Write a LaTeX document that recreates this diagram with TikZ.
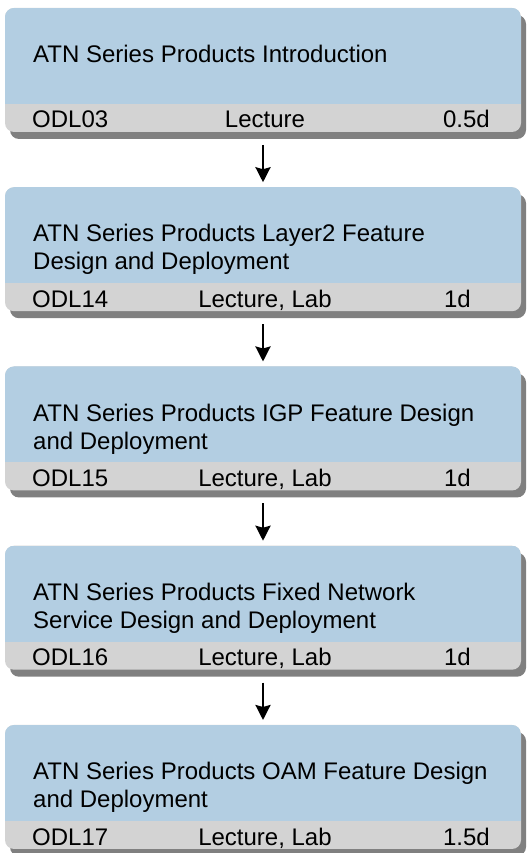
\documentclass[tikz,border=0pt]{standalone}
\usepackage{fontspec}
\setmainfont{Liberation Sans}
\usetikzlibrary{arrows.meta,shadows}

\definecolor{titleblue}{RGB}{179,206,226}
\definecolor{bargray}{RGB}{211,211,211}
\definecolor{shadowgray}{RGB}{128,128,128}

\begin{document}
\begin{tikzpicture}[
                        x=1pt,
                        y=1pt,
                        node distance=179.25pt,
                        font=\fontsize{24}{28}\selectfont,
                        flow/.style={-{Stealth[length=15pt,width=15pt,inset=2pt]},
                                     line width=2.5pt,
                                     shorten <=13pt,
                                     shorten >=5pt}
                    ]
                    \tikzstyle{course}=[rectangle,rounded corners=9pt,
                        minimum width=516pt,minimum height=124pt,
                        inner sep=0pt,outer sep=0pt,fill=bargray,
                        drop shadow={shadow xshift=5pt,shadow yshift=-7pt,
                                     fill=shadowgray,opacity=1},
                        path picture={\fill[titleblue,sharp corners]
                            (path picture bounding box.north west) rectangle
                            ([yshift=28pt]path picture bounding box.south east);}]
                    \tikzstyle{title}=[anchor=north west,inner sep=0pt,align=left]
                    \tikzstyle{code}=[anchor=base west,inner sep=0pt]
                    \tikzstyle{kind}=[anchor=base,inner sep=0pt]
                    \tikzstyle{days}=[anchor=base east,inner sep=0pt]

                    \useasboundingbox (0,0) rectangle (530,853);

                    \node[course] (C1) at (263,783) {};
                    \node[course] (C2) [below of=C1] {};
                    \node[course] (C3) [below of=C2] {};
                    \node[course] (C4) [below of=C3] {};
                    \node[course] (C5) [below of=C4] {};

                    \node[title] (T1) at ([shift={(28,-37)}]C1.north west) {ATN Series Products Introduction};
                    \node[title] (T2) at ([shift={(28,-37)}]C2.north west) {ATN Series Products Layer2 Feature\\Design and Deployment};
                    \node[title] (T3) at ([shift={(28,-37)}]C3.north west) {ATN Series Products IGP Feature Design\\and Deployment};
                    \node[title] (T4) at ([shift={(28,-37)}]C4.north west) {ATN Series Products Fixed Network\\Service Design and Deployment};
                    \node[title] (T5) at ([shift={(28,-37)}]C5.north west) {ATN Series Products OAM Feature Design\\and Deployment};

                    \node[code] (c1) at ([shift={(27,4)}]C1.south west) {ODL03};
                    \node[code] (c2) at ([shift={(27,4)}]C2.south west) {ODL14};
                    \node[code] (c3) at ([shift={(27,4)}]C3.south west) {ODL15};
                    \node[code] (c4) at ([shift={(27,4)}]C4.south west) {ODL16};
                    \node[code] (c5) at ([shift={(27,4)}]C5.south west) {ODL17};

                    \node[kind] (k1) at ([shift={(2,4)}]C1.south) {Lecture};
                    \node[kind] (k2) at ([shift={(2,4)}]C2.south) {Lecture, Lab};
                    \node[kind] (k3) at ([shift={(2,4)}]C3.south) {Lecture, Lab};
                    \node[kind] (k4) at ([shift={(2,4)}]C4.south) {Lecture, Lab};
                    \node[kind] (k5) at ([shift={(2,4)}]C5.south) {Lecture, Lab};

                    \node[days] (d1) at ([shift={(-31,4)}]C1.south east) {0.5d};
                    \node[days] (d2) at ([shift={(-50,4)}]C2.south east) {1d};
                    \node[days] (d3) at ([shift={(-50,4)}]C3.south east) {1d};
                    \node[days] (d4) at ([shift={(-50,4)}]C4.south east) {1d};
                    \node[days] (d5) at ([shift={(-31,4)}]C5.south east) {1.5d};

                    \path
                    (C1) edge [flow] (C2)
                    (C2) edge [flow] (C3)
                    (C3) edge [flow] (C4)
                    (C4) edge [flow] (C5) ;

                \end{tikzpicture}
\end{document}
